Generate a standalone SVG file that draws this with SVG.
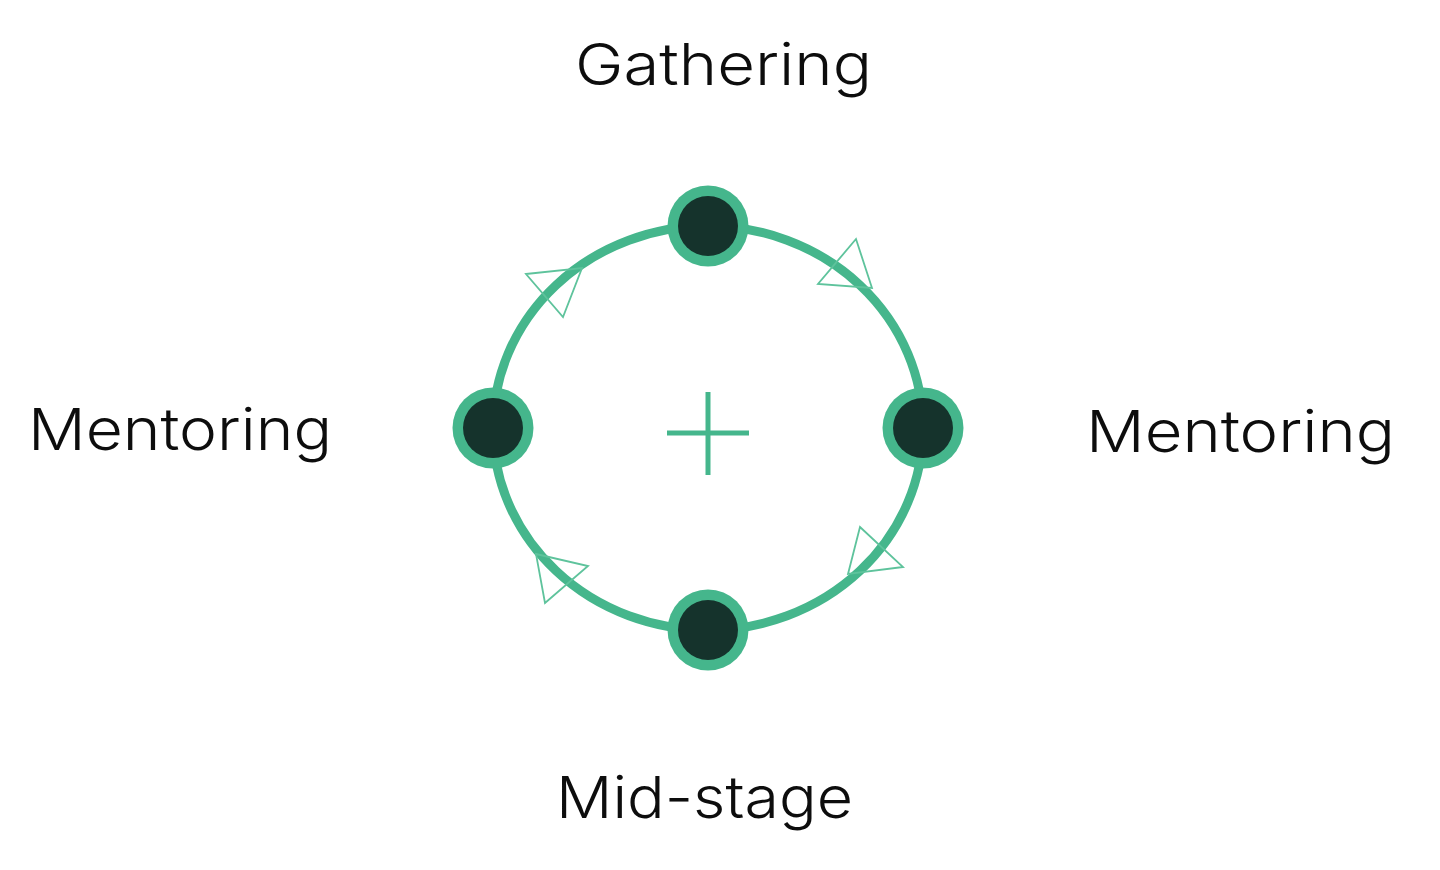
<svg xmlns="http://www.w3.org/2000/svg" width="1440" height="870" viewBox="0 0 1440 870">
<style>
.ring{fill:none;stroke:#45b68c;stroke-width:9}
.arrow{fill:none;stroke:#5ec39c;stroke-width:1.8;stroke-linejoin:miter}
.outer{fill:#45b68c}
.inner{fill:#15332c}
.plus{stroke:#45b68c;stroke-width:5;fill:none}
.label{font-family:"Inter","Open Sans","Liberation Sans",sans-serif;font-size:58px;font-weight:300;fill:#0d0d0d}
</style>
<rect width="1440" height="870" fill="#ffffff"/>
<g id="connectors">
<ellipse class="ring" cx="708" cy="428" rx="215" ry="202"/>
<polygon class="arrow" points="526,274 582,268 563,317"/>
<polygon class="arrow" points="856,239 818,284 872,288"/>
<polygon class="arrow" points="860,527 903,567 848,574"/>
<polygon class="arrow" points="536,554 588,566 545,603"/>
</g>
<g id="center-plus">
<line class="plus" x1="708" y1="392" x2="708" y2="475"/>
<line class="plus" x1="667" y1="433" x2="749" y2="433"/>
</g>
<g id="node-top">
<circle class="outer" cx="708" cy="226" r="40.5"/>
<circle class="inner" cx="708" cy="226" r="30"/>
</g>
<g id="node-right">
<circle class="outer" cx="923" cy="428" r="40.5"/>
<circle class="inner" cx="923" cy="428" r="30"/>
</g>
<g id="node-bottom">
<circle class="outer" cx="708" cy="630" r="40.5"/>
<circle class="inner" cx="708" cy="630" r="30"/>
</g>
<g id="node-left">
<circle class="outer" cx="493" cy="428" r="40.5"/>
<circle class="inner" cx="493" cy="428" r="30"/>
</g>
<g id="label-gathering">
<text class="label" x="575" y="85" textLength="297" lengthAdjust="spacingAndGlyphs">Gathering</text>
</g>
<g id="label-mentoring-left">
<text class="label" x="28" y="450" textLength="304" lengthAdjust="spacingAndGlyphs">Mentoring</text>
</g>
<g id="label-mentoring-right">
<text class="label" x="1086" y="452" textLength="309" lengthAdjust="spacingAndGlyphs">Mentoring</text>
</g>
<g id="label-midstage">
<text class="label" x="556" y="818" textLength="297" lengthAdjust="spacingAndGlyphs">Mid-stage</text>
</g>
</svg>
